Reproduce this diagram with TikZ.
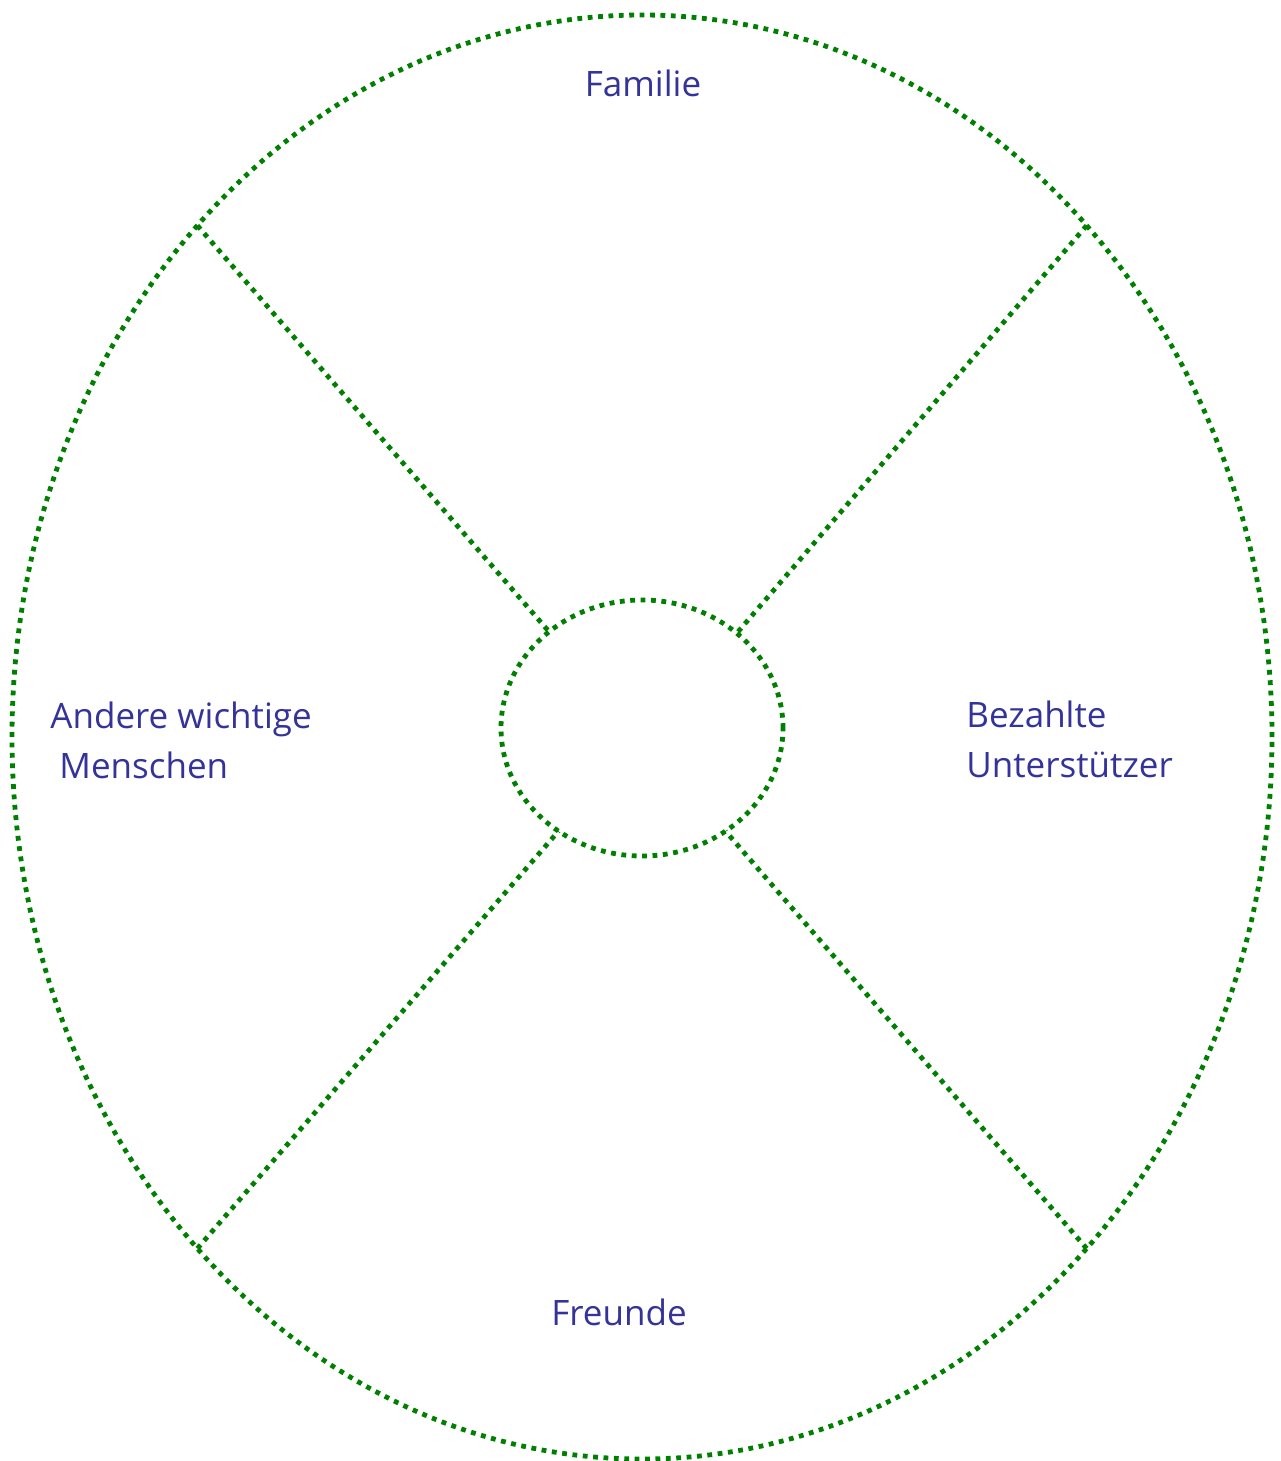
\documentclass[tikz,border=0pt]{standalone}
\usepackage{fontspec}
\setmainfont{Open Sans}
\usepackage{xcolor}
\usetikzlibrary{shapes.geometric, positioning}

\definecolor{ringgreen}{RGB}{0,128,0}
\definecolor{labelblue}{RGB}{51,51,153}

\tikzset{
  ring/.style={ellipse, draw=ringgreen, line width=2.4pt, dash pattern=on 2.4pt off 2.8pt, inner sep=0pt, outer sep=0pt},
  spoke/.style={draw=ringgreen, line width=2.4pt, dash pattern=on 2.4pt off 2.8pt},
  sectortext/.style={text=labelblue, font=\fontsize{17.5}{25}\selectfont, inner sep=0pt, align=left}
}

\begin{document}
\begin{tikzpicture}[x=0.5pt, y=-0.5pt]
\useasboundingbox (0,0) rectangle (1280,1461);

% rings
\node[ring, minimum width=630pt, minimum height=722pt] (outer) at (642,737) {};
\node[ring, minimum width=141pt, minimum height=128pt] (inner) at (642,728) {};

% spokes
\draw[spoke] (outer.131) -- (inner.134.7);
\draw[spoke] (outer.49.4) -- (inner.45);
\draw[spoke] (outer.229.1) -- (inner.231);
\draw[spoke] (outer.311) -- (inner.309);

% sector labels
\node[sectortext, anchor=base] (familie) at (643,97) {Familie};
\node[sectortext, anchor=base] (freunde) at (619,1325) {Freunde};
\node[sectortext, anchor=base west] (andere) at (50,778) {Andere wichtige\\\ Menschen};
\node[sectortext, anchor=base west] (bezahlt) at (966,777) {Bezahlte\\Unterstützer};
\end{tikzpicture}
\end{document}
